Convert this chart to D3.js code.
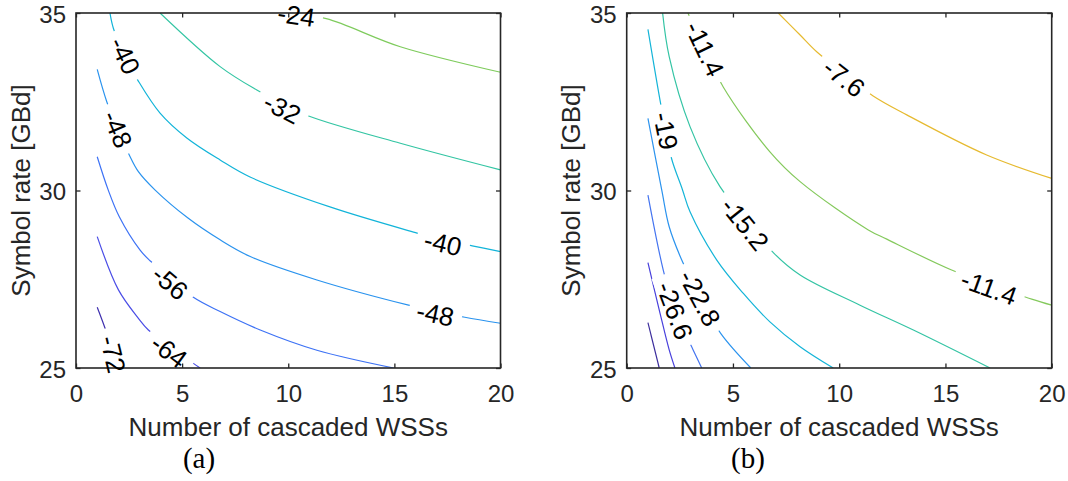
<!DOCTYPE html>
<html>
<head>
<meta charset="utf-8">
<script src="https://cdn.jsdelivr.net/npm/d3@7"></script>
<style>
  body { margin: 0; background: #fff; }
  text { font-family: "Liberation Sans", Arial, sans-serif; }
  text.tag { font-family: "Liberation Serif", "Times New Roman", serif; }
</style>
</head>
<body>
<svg id="chart" width="1068" height="481"></svg>
<script>
// Contour data: [WSS count, symbol rate GBd]

var xTicks = [0, 5, 10, 15, 20];
var yTicks = [25, 30, 35];

// (a)
var levelsA = [-72, -64, -56, -48, -40, -32, -24];
var colorsA = ["#3e2fae", "#4a4de6", "#3d72f5", "#2a93ee", "#12b4d9", "#33c5a3", "#7ecb5c"];
var linesA = [
  [[1, 26.71], [1.45, 25.98], [1.75, 25.39], [1.85, 25]],
  [[1, 28.7], [2, 27.2], [2.94, 26.4], [3.41, 26.07], [4.39, 25.64], [5.53, 25.13], [5.85, 25]],
  [[1, 30.95], [1.52, 30.01], [2.04, 29.26], [3.02, 28.32], [3.49, 28.02], [4.43, 27.55], [5.53, 26.99],
   [6.79, 26.59], [8.68, 26.07], [11.35, 25.5], [14.97, 25]],
  [[1, 33.41], [1.45, 32.5], [1.96, 31.73], [2.51, 31.0], [2.94, 30.53], [3.73, 30.01], [5.26, 29.23],
   [6.79, 28.61], [8.21, 28.14], [11.35, 27.48], [15.67, 26.77], [16.93, 26.6], [18.32, 26.43], [20, 26.26]],
  [[1.6, 35], [1.76, 34.57], [2.31, 33.77], [2.91, 33.11], [3.96, 32.18], [5.22, 31.48], [6.79, 30.86],
   [8.2, 30.38], [12, 29.53], [16.07, 28.8], [17.29, 28.6], [18.67, 28.44], [20, 28.28]],
  [[3.96, 35], [6.79, 33.49], [8.52, 32.83], [9.72, 32.45], [10.96, 32.1], [15.28, 31.33], [20, 30.58]],
  [[9.95, 35], [11.79, 34.84], [15.28, 34.05], [20, 33.33]]
];
var labelsA = [
  {v: -24, x: 10.38, y: 34.94},
  {v: -32, x: 9.72, y: 32.32},
  {v: -40, x: 2.31, y: 33.8},
  {v: -40, x: 17.29, y: 28.52},
  {v: -48, x: 1.96, y: 31.73},
  {v: -48, x: 16.93, y: 26.53},
  {v: -56, x: 4.43, y: 27.41},
  {v: -64, x: 4.39, y: 25.48},
  {v: -72, x: 1.75, y: 25.39}
];

// (b)
var levelsB = [-34.2, -30.4, -26.6, -22.8, -19, -15.2, -11.4, -7.6];
var colorsB = ["#3b2c9c", "#4840dc", "#4474f0", "#2b93ee", "#14b4d8", "#34c4a4", "#84c95c", "#e6ba30"];
var linesB = [
  [[1, 26.28], [1.53, 25]],
  [[1, 27.97], [1.57, 26.54], [2.0, 25.51], [2.27, 25]],
  [[1, 29.87], [1.72, 27.76], [2.27, 26.62], [3.11, 25.53], [3.53, 25]],
  [[1, 32.03], [1.65, 30.01], [2.0, 28.98], [2.59, 28.04], [3.45, 26.97], [4.44, 25.96], [5.84, 25]],
  [[1, 34.54], [1.6, 32.44], [1.85, 31.68], [2.12, 30.88], [2.62, 30.03], [2.98, 29.4], [4.24, 28.04],
   [5.49, 27.1], [6.74, 26.3], [8.16, 25.6], [9.72, 25]],
  [[1.69, 35], [2.0, 33.77], [2.98, 31.8], [4.39, 30.11], [5.57, 29.24], [6.9, 28.25], [8.16, 27.62],
   [10.98, 26.77], [13.49, 26.07], [17.1, 25]],
  [[2.88, 35], [3.68, 33.99], [4.55, 32.91], [6.74, 31.09], [8.16, 30.25], [11.37, 28.89], [12.24, 28.63],
   [15.29, 27.76], [17.05, 27.38], [19.06, 26.94], [20, 26.77]],
  [[7.13, 35], [8.16, 34.38], [8.94, 33.91], [10.23, 33.3], [11.58, 32.67], [13.18, 32.13], [16.94, 31.0], [20, 30.34]]
];
var labelsB = [
  {v: -7.6, x: 10.23, y: 33.18},
  {v: -11.4, x: 3.68, y: 33.99},
  {v: -11.4, x: 17.05, y: 27.27},
  {v: -15.2, x: 5.57, y: 29.06},
  {v: -19, x: 1.85, y: 31.68},
  {v: -22.8, x: 3.45, y: 26.97},
  {v: -26.6, x: 2.27, y: 26.62}
];

var W = 1068, H = 481;
var plotTop = 13, plotBottom = 368;
var axisColor = "#262626";

var panels = [
  {levels: levelsA, colors: colorsA, lines: linesA, labels: labelsA,
   left: 76, right: 500.5, tag: "(a)", tagX: 199, ylabX: 30},
  {levels: levelsB, colors: colorsB, lines: linesB, labels: labelsB,
   left: 626.7, right: 1051.7, tag: "(b)", tagX: 748, ylabX: 580}
];

var svg = d3.select("#chart");
var defs = svg.append("defs");

panels.forEach(function (p, i) {
  var x = d3.scaleLinear().domain([0, 20]).range([p.left, p.right]);
  var y = d3.scaleLinear().domain([25, 35]).range([plotBottom, plotTop]);

  defs.append("clipPath").attr("id", "clip" + i)
    .append("rect")
    .attr("x", p.left).attr("y", plotTop)
    .attr("width", p.right - p.left).attr("height", plotBottom - plotTop);

  var mask = defs.append("mask").attr("id", "mask" + i)
    .attr("maskUnits", "userSpaceOnUse")
    .attr("x", 0).attr("y", 0).attr("width", W).attr("height", H);
  mask.append("rect").attr("width", W).attr("height", H).attr("fill", "white");

  var g = svg.append("g");
  var lineG = g.append("g").attr("clip-path", "url(#clip" + i + ")")
    .append("g").attr("mask", "url(#mask" + i + ")");

  var line = d3.line()
    .x(function (d) { return x(d[0]); })
    .y(function (d) { return y(d[1]); })
    .curve(d3.curveCatmullRom.alpha(0.5));

  lineG.selectAll("path")
    .data(p.lines)
    .enter().append("path")
    .attr("d", line)
    .attr("fill", "none")
    .attr("stroke", function (d, k) { return p.colors[k]; })
    .attr("stroke-width", 1.2);

  // axes, ticks inward on all four sides
  var tickLen = -4.5;
  g.append("g").attr("transform", "translate(0," + plotBottom + ")")
    .call(d3.axisBottom(x).tickValues(xTicks).tickSize(tickLen).tickPadding(17));
  var yAxis = g.append("g").attr("transform", "translate(" + p.left + ",0)")
    .call(d3.axisLeft(y).tickValues(yTicks).tickSize(tickLen).tickPadding(10));
  g.append("g").attr("transform", "translate(0," + plotTop + ")")
    .call(d3.axisTop(x).tickValues(xTicks).tickSize(tickLen).tickFormat(""));
  g.append("g").attr("transform", "translate(" + p.right + ",0)")
    .call(d3.axisRight(y).tickValues(yTicks).tickSize(tickLen).tickFormat(""));

  g.selectAll(".domain").remove();
  g.selectAll(".tick line").attr("stroke", axisColor).attr("stroke-width", 1.3);
  g.selectAll(".tick text")
    .attr("fill", axisColor)
    .attr("font-size", 24)
    .attr("font-family", "'Liberation Sans', Arial, sans-serif");
  yAxis.selectAll(".tick text").attr("dy", "0.38em");

  g.append("rect")
    .attr("x", p.left).attr("y", plotTop)
    .attr("width", p.right - p.left).attr("height", plotBottom - plotTop)
    .attr("fill", "none")
    .attr("stroke", axisColor)
    .attr("stroke-width", 1.6);

  // inline labels: angle follows the contour, gap cut out with the mask
  var labG = g.append("g");
  p.labels.forEach(function (l) {
    var pts = p.lines[p.levels.indexOf(l.v)];
    var px = x(l.x), py = y(l.y);
    var best = 0, bd = Infinity;
    pts.forEach(function (pt, k) {
      var d = Math.pow(x(pt[0]) - px, 2) + Math.pow(y(pt[1]) - py, 2);
      if (d < bd) { bd = d; best = k; }
    });
    var a = pts[Math.max(best - 1, 0)], b = pts[Math.min(best + 1, pts.length - 1)];
    var ang = Math.atan2(y(b[1]) - y(a[1]), x(b[0]) - x(a[0])) * 180 / Math.PI;
    if (ang > 90) ang -= 180;
    if (ang < -90) ang += 180;
    var tr = "translate(" + px + "," + py + ") rotate(" + ang + ")";
    var t = labG.append("text")
      .attr("transform", tr)
      .attr("text-anchor", "middle")
      .attr("dy", "0.36em")
      .attr("font-size", 26)
      .attr("fill", "#000")
      .text(String(l.v));
    var w = t.node().getComputedTextLength();
    mask.append("rect")
      .attr("transform", tr)
      .attr("x", -w / 2 - 8).attr("y", -11)
      .attr("width", w + 16).attr("height", 22)
      .attr("fill", "black");
  });

  g.append("text")
    .attr("x", (p.left + p.right) / 2).attr("y", 436)
    .attr("text-anchor", "middle")
    .attr("font-size", 26)
    .attr("fill", axisColor)
    .text("Number of cascaded WSSs");

  g.append("text")
    .attr("transform", "translate(" + p.ylabX + "," + (plotTop + plotBottom) / 2 + ") rotate(-90)")
    .attr("text-anchor", "middle")
    .attr("font-size", 26)
    .attr("fill", axisColor)
    .text("Symbol rate [GBd]");

  g.append("text")
    .attr("class", "tag")
    .attr("x", p.tagX).attr("y", 468)
    .attr("text-anchor", "middle")
    .attr("font-size", 29)
    .attr("fill", "#000")
    .text(p.tag);
});
</script>
</body>
</html>
